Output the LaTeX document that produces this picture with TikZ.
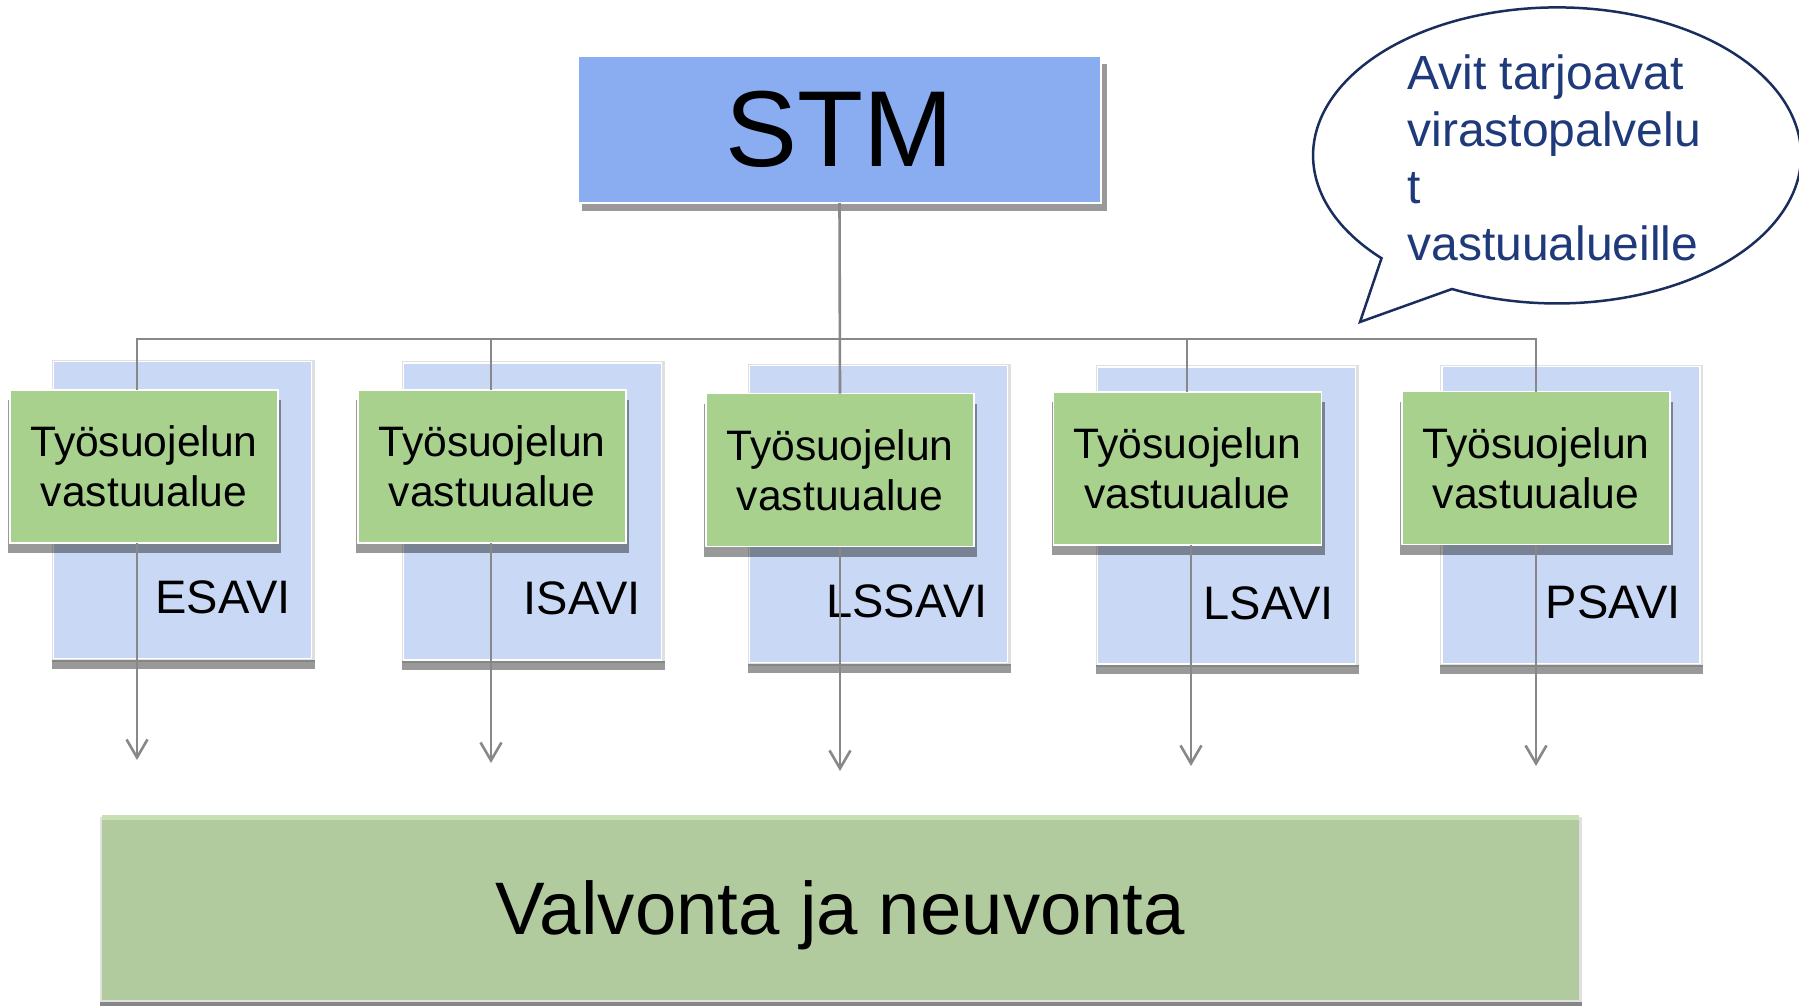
\documentclass[tikz,border=0pt]{standalone}
\usepackage{fontspec}
\setmainfont{Liberation Sans}
\usetikzlibrary{arrows.meta,calc}
\definecolor{stmblue}{HTML}{8AACF1}
\definecolor{backblue}{HTML}{C9D9F5}
\definecolor{boxgreen}{HTML}{A9D18E}
\definecolor{botgreen}{HTML}{B2CB9E}
\definecolor{bottop}{HTML}{C8E0B4}
\definecolor{navytext}{HTML}{1F3A7A}
\definecolor{navyline}{HTML}{1A2E5E}
\definecolor{conngray}{HTML}{888888}
\pgfdeclarelayer{bluelayer}
\pgfdeclarelayer{shadowlayer}
\pgfsetlayers{bluelayer,shadowlayer,main}
\begin{document}
\begin{tikzpicture}[x=0.5pt,y=-0.5pt,
  backbox/.style={fill=backblue, draw=white, line width=0.75pt, minimum width=129pt, minimum height=148.5pt, inner sep=0pt, outer sep=0pt},
  areabox/.style={fill=boxgreen, draw=white, line width=0.75pt, minimum width=134pt, minimum height=76.5pt, inner sep=0pt, outer sep=0pt, align=center, font=\fontsize{21.3}{25.2}\selectfont},
  avilabel/.style={anchor=base east, inner sep=0pt, font=\fontsize{23.5}{28}\selectfont},
  conn/.style={draw=conngray, line width=1.3pt},
  arr/.style={conn, -{Straight Barb[length=9pt, width=10.5pt]}},
  hardshadow/.style={fill=black, fill opacity=0.4},
  softshadow/.style={fill=black, fill opacity=0.12},
]
\useasboundingbox (0,0) rectangle (1799,1006);

% blue background areas with labels
\begin{pgfonlayer}{bluelayer}
\foreach \n/\cx/\cy in {1/182.5/510, 2/532.5/511.5, 3/878.5/514, 4/1226.5/515.5, 5/1571/515}{
  \node[backbox] (bl\n) at (\cx,\cy) {};
}
\foreach \n in {1,...,5}{
  \fill[softshadow] ($(bl\n.north west)+(-2,-2)$) rectangle ($(bl\n.south east)+(3,3)$);
  \fill[hardshadow] ($(bl\n.south west)+(-2,1)$) rectangle ($(bl\n.south east)+(3,10)$);
  \node[backbox] at (bl\n) {};
}
\node[avilabel] (l1) at (291,613) {ESAVI};
\node[avilabel] (l2) at (641,614) {ISAVI};
\node[avilabel] (l3) at (988,617) {LSSAVI};
\node[avilabel] (l4) at (1334,619) {LSAVI};
\node[avilabel] (l5) at (1681,618) {PSAVI};
\end{pgfonlayer}

% green areas
\node[areabox] (g1) at (144,466.5) {Työsuojelun\\vastuualue};
\node[areabox] (g2) at (492,466.5) {Työsuojelun\\vastuualue};
\node[areabox] (g3) at (840,470) {Työsuojelun\\vastuualue};
\node[areabox] (g4) at (1187.5,468.5) {Työsuojelun\\vastuualue};
\node[areabox] (g5) at (1536,468) {Työsuojelun\\vastuualue};
\begin{pgfonlayer}{shadowlayer}
\foreach \n in {1,...,5}{
  \fill[hardshadow] ($(g\n.north west)+(-2,10)$) rectangle ($(g\n.south east)+(3,10)$);
}
\end{pgfonlayer}

% STM
\fill[hardshadow] (582,64) rectangle (1107,211);
\node[fill=stmblue, draw=white, line width=0.75pt, minimum width=261.5pt, minimum height=73.5pt, inner sep=0pt, outer sep=0pt, font=\fontsize{54}{60}\selectfont] (stm) at (839.5,129.5) {STM};

% connectors
\coordinate (bus) at (839.5,339);
\coordinate (e1) at (137,760);
\coordinate (e2) at (491,763);
\coordinate (e3) at (840,771);
\coordinate (e4) at (1191,766);
\coordinate (e5) at (1536,766);
\draw[conn] (stm.south) -- (g3.north);
\draw[conn] (g1.north -| e1) |- (bus);
\draw[conn] (g2.north -| e2) |- (bus);
\draw[conn] ([xshift=-0.25pt]g4.north) |- (bus);
\draw[conn] (g5.north) |- (bus);
\foreach \n in {1,...,5}{
  \draw[arr] (g\n.south -| e\n) -- (e\n);
}

% bottom area
\fill[softshadow] (100,817) rectangle (1582,1006);
\fill[hardshadow] (100,1002) rectangle (1582,1010);
\node[fill=botgreen, minimum width=738.5pt, minimum height=92.5pt, inner sep=0pt, outer sep=0pt, font=\fontsize{37.2}{44}\selectfont, text depth=0pt] (bot) at (840.5,907.5) {Valvonta ja neuvonta};
\fill[bottop] (bot.north west) rectangle ($(bot.north east)+(0,5)$);

% speech bubble
\draw[navyline, line width=1.25pt, fill=white] (1452,289) arc[start angle=-115.5, end angle=224, x radius=122pt, y radius=74pt] -- (1360,322) -- cycle;
\node[anchor=base west, align=left, inner sep=0pt, text=navytext, font=\fontsize{24}{28.5}\selectfont] (bubbletext) at (1407,260) {Avit tarjoavat\\virastopalvelu\\t\\vastuualueille};
\end{tikzpicture}
\end{document}
